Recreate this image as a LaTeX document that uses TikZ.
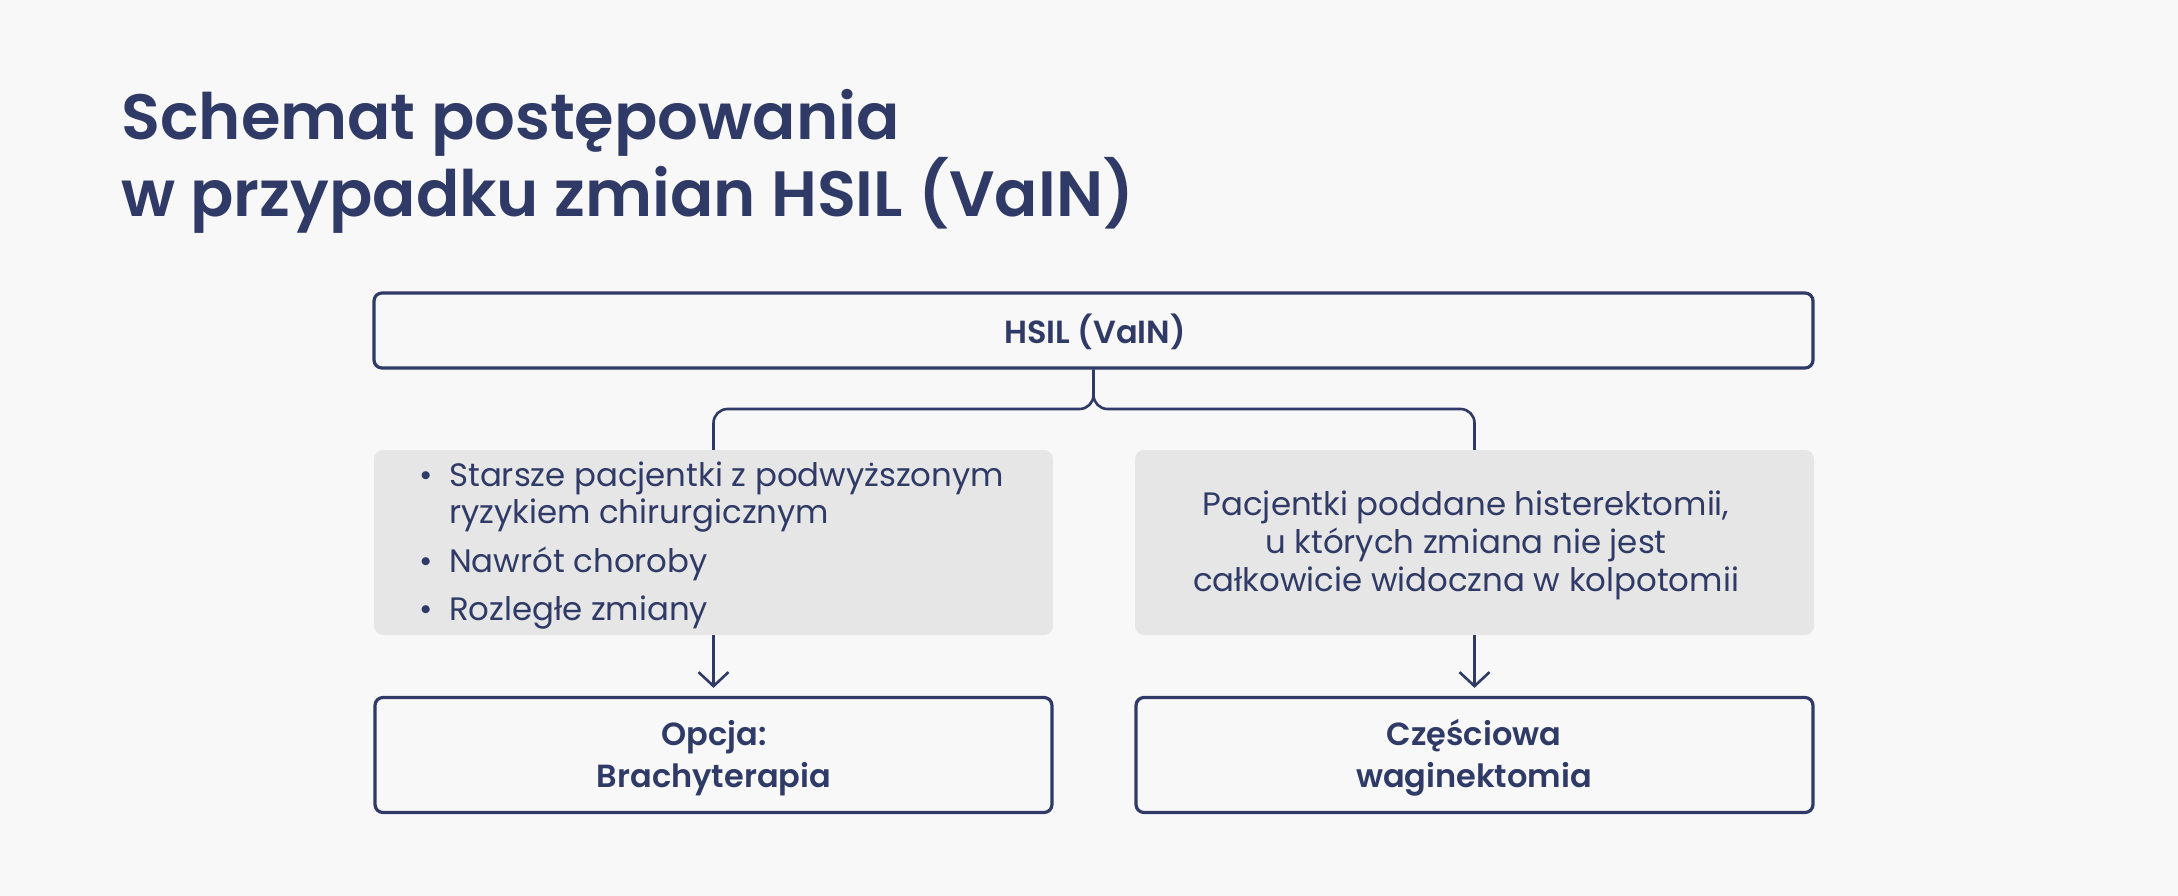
\documentclass[tikz,border=0pt]{standalone}
\usepackage{fontspec}
\setmainfont{Poppins}
\IfFontExistsTF{Poppins SemiBold}{\newfontfamily\semib{Poppins SemiBold}}{\newcommand\semib{\bfseries}}
\usetikzlibrary{arrows.meta}
\definecolor{navy}{HTML}{2F3A66}
\definecolor{bgc}{HTML}{F8F8F8}
\definecolor{grayfill}{HTML}{E6E6E6}
\begin{document}
\begin{tikzpicture}[x=1pt,y=-1pt,
  outbox/.style={draw=navy, line width=3.2pt, rounded corners=8pt, fill=bgc, inner sep=0pt},
  graybox/.style={fill=grayfill, rounded corners=9pt, inner sep=0pt},
  conn/.style={draw=navy, line width=2.6pt},
  body/.style={text=navy, inner sep=0pt, font=\fontsize{32.4}{38}\selectfont},
  bodyb/.style={body, font=\fontsize{32}{38}\selectfont\semib},
  ttl/.style={text=navy, inner sep=0pt, anchor=base west, font=\fontsize{64}{77}\selectfont\semib}
]
\fill[bgc] (0,0) rectangle (2178,896);
\useasboundingbox (0,0) rectangle (2178,896);

% title
\node[ttl] (t1) at (121,140) {Schemat postępowania};
\node[ttl] (t2) at (121,216) {w przypadku zmian HSIL (VaIN)};

% top box
\node[outbox, minimum width=1439pt, minimum height=75pt] (top) at (1093.5,330.5) {};
\node[bodyb, anchor=base] (toptxt) at (1095,343) {HSIL (VaIN)};

% gray boxes
\node[graybox, minimum width=679pt, minimum height=185pt] (g1) at (713.5,542.5) {};
\node[graybox, minimum width=679pt, minimum height=185pt] (g2) at (1474.5,542.5) {};

% left list
\node[body, anchor=base] (d1) at (426,486) {•};
\node[body, anchor=base west] (l1) at (449,486) {Starsze pacjentki z podwyższonym};
\node[body, anchor=base west] (l2) at (449,523) {ryzykiem chirurgicznym};
\node[body, anchor=base] (d2) at (426,572) {•};
\node[body, anchor=base west] (l3) at (449,572) {Nawrót choroby};
\node[body, anchor=base] (d3) at (426,620) {•};
\node[body, anchor=base west] (l4) at (449,620) {Rozległe zmiany};

% right text
\node[body, anchor=base] (r1) at (1466,515) {Pacjentki poddane histerektomii,};
\node[body, anchor=base] (r2) at (1466,553) {u których zmiana nie jest};
\node[body, anchor=base] (r3) at (1466,591) {całkowicie widoczna w kolpotomii};

% bottom boxes
\node[outbox, minimum width=677pt, minimum height=115pt] (b1) at (713.5,755) {};
\node[outbox, minimum width=677pt, minimum height=115pt] (b2) at (1474.5,755) {};
\node[bodyb, anchor=base] (b1a) at (714,745) {Opcja:};
\node[bodyb, anchor=base] (b1b) at (714,787) {Brachyterapia};
\node[bodyb, anchor=base] (b2a) at (1474,745) {Częściowa};
\node[bodyb, anchor=base] (b2b) at (1474,787) {waginektomia};

% connectors
\coordinate (split) at (1093.5,409);
\draw[conn, rounded corners=14pt] (top.south) -- (split) -| (g1.north);
\draw[conn, rounded corners=14pt] (top.south) -- (split) -| (g2.north);
\draw[conn, -{Straight Barb[length=14pt,width=30pt,line width=2.6pt]}, shorten >=8pt] (g1.south) -- (b1.north);
\draw[conn, -{Straight Barb[length=14pt,width=30pt,line width=2.6pt]}, shorten >=8pt] (g2.south) -- (b2.north);
\end{tikzpicture}
\end{document}
